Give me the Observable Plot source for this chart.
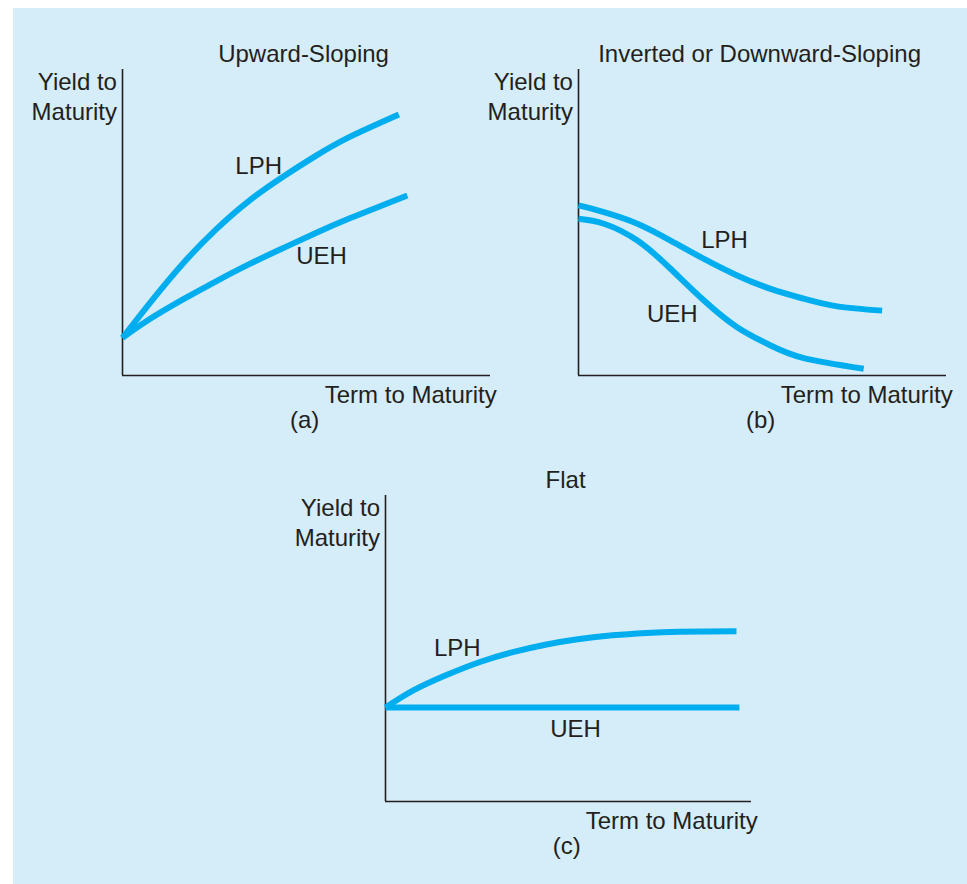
<!DOCTYPE html>
<html>
<head>
<meta charset="utf-8">
<script src="https://cdn.jsdelivr.net/npm/d3@7"></script>
<script src="https://cdn.jsdelivr.net/npm/@observablehq/plot@0.6"></script>
<style>
  html, body { margin: 0; padding: 0; background: #ffffff; }
  #page { position: relative; width: 967px; height: 884px; overflow: hidden; }
  #bg { position: absolute; left: 13px; top: 8px; width: 954px; height: 876px; background: #d5ecf9; }
  .panel { position: absolute; }
  .panel svg { overflow: visible; }
</style>
</head>
<body>
<div id="page"><div id="bg"></div></div>
<script>
// ---- Data (term to maturity vs. yield, arbitrary 0-10 units) ----
// Panel (a) Upward-Sloping
const termA_LPH = [0, 0.71, 1.62, 2.53, 3.43, 4.34, 5.24, 6.16, 7.51];
const yieldA_LPH = [1.23, 2.32, 3.63, 4.76, 5.70, 6.48, 7.17, 7.79, 8.53];
const termA_UEH = [0, 0.71, 1.62, 2.53, 3.43, 4.34, 5.24, 6.16, 7.74];
const yieldA_UEH = [1.23, 1.82, 2.47, 3.07, 3.63, 4.15, 4.65, 5.13, 5.88];
// Panel (b) Inverted or Downward-Sloping
const termB_LPH = [0, 0.69, 1.60, 2.50, 3.41, 4.31, 5.22, 6.12, 7.03, 8.25];
const yieldB_LPH = [5.56, 5.34, 4.96, 4.41, 3.81, 3.27, 2.83, 2.51, 2.26, 2.12];
const termB_UEH = [0, 0.69, 1.60, 2.50, 3.41, 4.31, 5.22, 6.12, 7.75];
const yieldB_UEH = [5.12, 4.96, 4.41, 3.49, 2.45, 1.58, 0.98, 0.57, 0.22];
// Panel (c) Flat
const termC_LPH = [0, 0.76, 1.68, 2.58, 3.48, 4.40, 5.30, 6.20, 7.12, 8.02, 9.59];
const yieldC_LPH = [3.07, 3.63, 4.14, 4.56, 4.88, 5.13, 5.31, 5.43, 5.51, 5.55, 5.56];
const termC_UEH = [0, 9.67];
const yieldC_UEH = [3.07, 3.07];

// ---- Text ----
const panelTitles = ["Upward-Sloping", "Inverted or Downward-Sloping", "Flat"];
const panelTags = ["(a)", "(b)", "(c)"];
const yLabel = "Yield to\nMaturity";
const xLabel = "Term to Maturity";
const seriesNames = ["LPH", "UEH"];
// label anchor points (data units) for LPH / UEH in each panel
const lphLabelAt = [[3.70, 6.60], [3.97, 4.18], [1.96, 4.77]];
const uehLabelAt = [[5.41, 3.66], [2.55, 1.76], [5.19, 2.12]];

const LINE = "#00aeef";
const INK = "#231f20";
const FONT = "'Liberation Sans', Arial, Helvetica, sans-serif";

function pts(xs, ys) { return xs.map((x, i) => ({x, y: ys[i]})); }

const panels = [
  {left: 13, top: 8, width: 485, height: 440, m: [61, 8, 73, 109],
   lph: pts(termA_LPH, yieldA_LPH), ueh: pts(termA_UEH, yieldA_UEH)},
  {left: 498, top: 8, width: 469, height: 440, m: [61, 21, 73, 80],
   lph: pts(termB_LPH, yieldB_LPH), ueh: pts(termB_UEH, yieldB_UEH)},
  {left: 13, top: 448, width: 954, height: 436, m: [47, 216, 83, 372],
   lph: pts(termC_LPH, yieldC_LPH), ueh: pts(termC_UEH, yieldC_UEH)}
];

const page = document.getElementById("page");
panels.forEach((p, i) => {
  const txt = (data, opts) => Plot.text(data, {fill: INK, fontSize: 24, fontFamily: FONT, lineAnchor: "bottom", ...opts});
  const chart = Plot.plot({
    width: p.width,
    height: p.height,
    marginTop: p.m[0], marginRight: p.m[1], marginBottom: p.m[2], marginLeft: p.m[3],
    x: {domain: [0, 10], axis: null},
    y: {domain: [0, 10], axis: null},
    style: {background: "transparent", fontFamily: FONT, fontSize: "24px", overflow: "visible"},
    marks: [
      Plot.ruleX([0], {y1: 0, y2: 10, stroke: INK, strokeWidth: 1.6}),
      Plot.ruleY([0], {x1: 0, x2: 10, stroke: INK, strokeWidth: 1.6}),
      Plot.line(p.lph, {x: "x", y: "y", curve: "natural", stroke: LINE, strokeWidth: 6, strokeLinecap: "butt"}),
      Plot.line(p.ueh, {x: "x", y: "y", curve: "natural", stroke: LINE, strokeWidth: 6, strokeLinecap: "butt"}),
      txt([panelTitles[i]], {x: 4.92, y: 10.23, text: d => d, textAnchor: "middle"}),
      txt([yLabel], {x: -0.15, y: 8.35, text: d => d, textAnchor: "end", lineHeight: 1.25}),
      txt([xLabel], {x: 10.17, y: -0.91, text: d => d, textAnchor: "end"}),
      txt([panelTags[i]], {x: 4.95, y: -1.72, text: d => d, textAnchor: "middle"}),
      txt([seriesNames[0]], {x: lphLabelAt[i][0], y: lphLabelAt[i][1], text: d => d, textAnchor: "middle"}),
      txt([seriesNames[1]], {x: uehLabelAt[i][0], y: uehLabelAt[i][1], text: d => d, textAnchor: "middle"})
    ]
  });
  const holder = document.createElement("div");
  holder.className = "panel";
  holder.style.left = p.left + "px";
  holder.style.top = p.top + "px";
  holder.appendChild(chart);
  page.appendChild(holder);
});
</script>
</body>
</html>
